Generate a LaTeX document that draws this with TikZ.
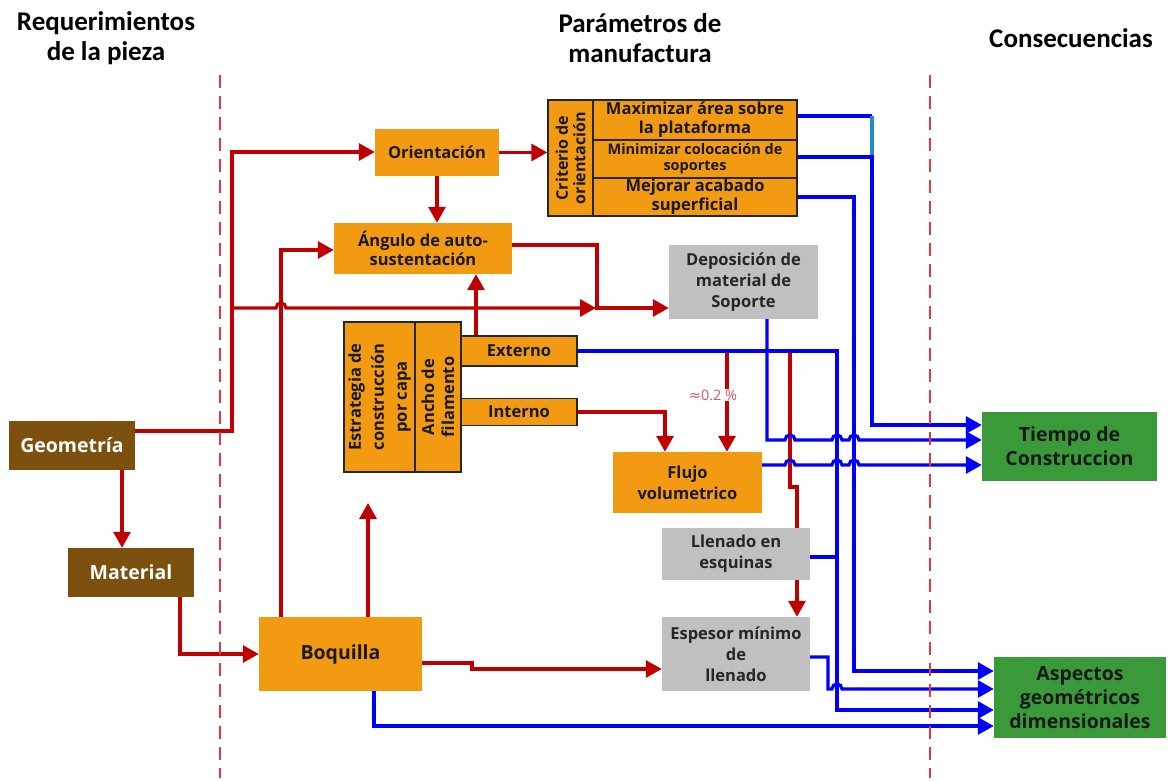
\documentclass[tikz,border=0pt]{standalone}
\usepackage{fontspec}
\setmainfont{Open Sans}
\newfontfamily\hdrfont{Carlito}
\newfontfamily\symfont{DejaVu Sans}
\usetikzlibrary{arrows.meta,calc}
\definecolor{orng}{HTML}{F29B12}
\definecolor{brwn}{HTML}{7C510F}
\definecolor{gry}{HTML}{C0C0C0}
\definecolor{grn}{HTML}{3A9A3A}
\definecolor{dred}{HTML}{C00000}
\definecolor{blu}{HTML}{0000FF}
\definecolor{dashred}{HTML}{E03A3A}
\definecolor{tealb}{HTML}{1E8CC8}
\definecolor{pinkred}{HTML}{D9536A}
\tikzset{
  box/.style={inner sep=0pt, align=center, text=black!90, font=\bfseries\fontsize{16.5}{19}\selectfont},
  obox/.style={box, fill=orng},
  obb/.style={obox, draw=black!85, line width=1.4pt},
  gbox/.style={box, fill=gry, text=black!85, font=\bfseries\fontsize{16.5}{21}\selectfont},
  bbox/.style={box, fill=brwn, text=white, font=\bfseries\fontsize{19.5}{22}\selectfont},
  grbox/.style={box, fill=grn, text=black!90, font=\bfseries\fontsize{19.5}{24}\selectfont},
  hdr/.style={align=center, inner sep=0pt, text=black, font=\hdrfont\bfseries\fontsize{27}{30}\selectfont},
  rl/.style={draw=dred, line width=3.2pt},
  ra/.style={rl, -{Triangle[length=16pt,width=17pt]}},
  bl/.style={draw=blu, line width=3.2pt},
  ba/.style={bl, -{Triangle[length=16pt,width=17pt]}},
  sep/.style={draw=dashred, line width=2.8pt, dash pattern=on 13pt off 8pt},
  lbl/.style={fill=white, inner sep=1pt, text=pinkred, font=\fontsize{14.5}{16}\selectfont}
}
\begin{document}
\begin{tikzpicture}[x=1pt,y=-1pt]
\useasboundingbox (0,0) rectangle (1168,781);
% headers
\node[hdr] (h1) at (106,38) {Requerimientos\\de la pieza};
\node[hdr] (h2) at (640,38) {Parámetros de\\manufactura};
\node[hdr] (h3) at (1071,38) {Consecuencias};
% nodes
\node[bbox, minimum width=126pt, minimum height=49pt] (geo) at (72,445.5) {Geometría};
\node[bbox, minimum width=126pt, minimum height=49pt] (mat) at (131,572.5) {Material};
\node[obox, font=\bfseries\fontsize{19.5}{22}\selectfont, minimum width=163pt, minimum height=74pt] (boq) at (340.5,654) {Boquilla};
\node[obox, minimum width=124pt, minimum height=47pt] (ori) at (437,152.5) {Orientación};
\node[obox, minimum width=178pt, minimum height=51pt] (ang) at (423,248.5) {Ángulo de auto-\\sustentación};
\node[obb, rotate=90, font=\bfseries\fontsize{16}{17.5}\selectfont, minimum width=116pt, minimum height=45pt] (crit) at (570.5,158) {Criterio de\\orientación};
\node[obb, minimum width=204pt, minimum height=40pt] (max) at (695,120) {Maximizar área sobre\\la plataforma};
\node[obb, font=\bfseries\fontsize{14.5}{16}\selectfont, minimum width=204pt, minimum height=38pt] (min) at (695,159) {Minimizar colocación de\\soportes};
\node[obb, minimum width=204pt, minimum height=38pt] (mej) at (695,197) {Mejorar acabado\\superficial};
\node[gbox, minimum width=149pt, minimum height=74pt] (dep) at (743.5,282) {Deposición de\\material de\\Soporte};
\node[obb, rotate=90, font=\bfseries\fontsize{16.5}{23}\selectfont, minimum width=150pt, minimum height=71pt] (est) at (379.5,397) {Estrategia de\\construcción\\por capa};
\node[obb, rotate=90, font=\bfseries\fontsize{16.5}{20}\selectfont, minimum width=150pt, minimum height=46pt] (anc) at (438,397) {Ancho de\\filamento};
\node[obb, minimum width=116pt, minimum height=30pt] (ext) at (519,351) {Externo};
\node[obb, minimum width=116pt, minimum height=27pt] (int) at (519,412) {Interno};
\node[obox, font=\bfseries\fontsize{16.5}{21}\selectfont, minimum width=149pt, minimum height=61pt] (flu) at (687.5,482.5) {Flujo\\volumetrico};
\node[gbox, minimum width=148pt, minimum height=52pt] (lle) at (736,554) {Llenado en\\esquinas};
\node[gbox, minimum width=148pt, minimum height=74pt] (esp) at (736,654) {Espesor mínimo\\de\\llenado};
\node[grbox, minimum width=175pt, minimum height=69pt] (tie) at (1069.5,446.5) {Tiempo de\\Construccion};
\node[grbox, minimum width=172pt, minimum height=81pt] (asp) at (1080,697.5) {Aspectos\\geométricos\\dimensionales};
\coordinate (up) at (368,503);
% red connectors
\draw[ra] (geo.east |- 0,431) -| (232,152) -- (ori.west |- 0,152);
\draw[ra] (232,308) -- (276,308) arc[start angle=180,end angle=0,radius=5pt] -- (596,308);
\draw[ra] (ang.east |- 0,245) -| (597,308) -- (dep.west |- 0,308);
\draw[ra] (ori.south) -- (ori.south |- ang.north);
\draw[ra] (ori.east) -- (crit.north |- ori.east);
\draw[ra] (boq.north -| 281,0) |- (ang.west |- 0,250);
\draw[ra] (ext.north -| 476,0) -- (ang.south -| 476,0);
\draw[ra] (boq.north -| 368,0) -- (up);
\draw[ra] (mat.south -| 180,0) |- (boq.west);
\draw[ra] (geo.south -| 122,0) -- (mat.north -| 122,0);
\draw[ra] (int.east) -| (flu.north -| 665,0);
\draw[ra] (727,351) -- (flu.north -| 727,0);
\draw[rl] (790,351) -- (790,487) -- (797,487) -- (lle.north -| 797,0);
\draw[ra] (lle.south -| 797,0) -- (esp.north -| 797,0);
\draw[ra] (boq.east |- 0,663) -- (472,663) -- (472,669) -- (esp.west |- 0,669);
% blue connectors
\draw[bl] (max.east |- 0,116) -- (872,116);
\draw[draw=tealb, line width=3.2pt] (872,116) -- (872,157);
\draw[ba] (min.east |- 0,157) -- (872,157) |- (tie.west |- 0,425);
\draw[ba] (mej.east) -| (854,671) -- (asp.west |- 0,671);
\draw[ba] (ext.east) -| (837,710) -- (asp.west |- 0,710);
\draw[bl] (lle.east |- 0,557) -- (837,557);
\draw[ba] (dep.south -| 767,0) -- (767,440) -- (785,440) arc[start angle=180,end angle=0,radius=5pt]
  -- (832,440) arc[start angle=180,end angle=0,radius=5pt]
  -- (849,440) arc[start angle=180,end angle=0,radius=5pt] -- (tie.west |- 0,440);
\draw[ba] (flu.east |- 0,465) -- (785,465) arc[start angle=180,end angle=0,radius=5pt]
  -- (832,465) arc[start angle=180,end angle=0,radius=5pt]
  -- (849,465) arc[start angle=180,end angle=0,radius=5pt] -- (tie.west |- 0,465);
\draw[ba] (esp.east |- 0,657) -- (828,657) -- (828,689) -- (832,689) arc[start angle=180,end angle=0,radius=5pt] -- (asp.west |- 0,689);
\draw[ba] (boq.south -| 374,0) |- (asp.west |- 0,726);
% label
\node[lbl] (pct) at (713,395) {{\symfont ≈}0.2 \%};
% separators
\coordinate (s1a) at (220,75); \coordinate (s1b) at (220,778);
\coordinate (s2a) at (930,75); \coordinate (s2b) at (930,778);
\draw[sep] (s1a) -- (s1b);
\draw[sep] (s2a) -- (s2b);
\end{tikzpicture}
\end{document}
